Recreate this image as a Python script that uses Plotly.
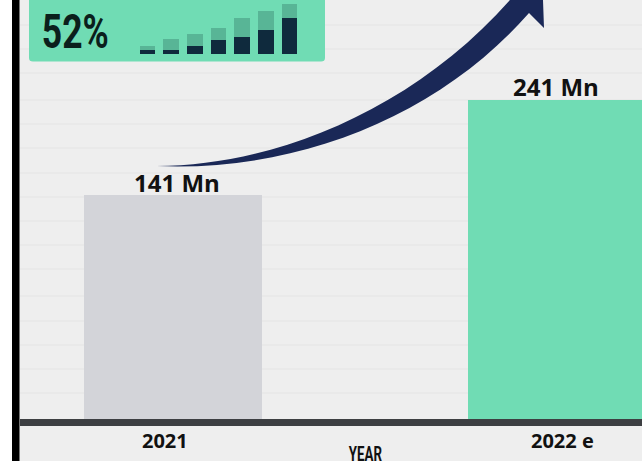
import plotly.graph_objects as go

W, H = 642, 461

# Main bars
years = ["2021", "2022 e"]
users_mn = [141, 241]
bar_colors = ["#d3d4d9", "#70dcb4"]

# Small growth bars in the badge
mini_steps = [0, 1, 2, 3, 4, 5, 6]
mini_dark = [4, 4, 8, 14, 17, 24, 36]
mini_light = [4, 11, 12, 12, 19, 19, 14]
badge_text = "52%"
axis_title = "YEAR"

# Horizontal rules, in pixels from the top
rule_rows = [25, 49, 73, 100, 124, 148, 173, 197, 221, 245, 269, 296, 321, 345, 369, 393]


def px(x):
    return x / W


def py(y):
    return 1 - y / H


def path(cmds):
    """Turn (command, x, y, ...) tuples given in pixels into a paper-space SVG path."""
    parts = []
    for c in cmds:
        nums = c[1:]
        pts = [f"{px(nums[i]):.5f},{py(nums[i + 1]):.5f}" for i in range(0, len(nums), 2)]
        parts.append(c[0] + " " + " ".join(pts))
    return " ".join(parts)


fig = go.Figure()

fig.add_bar(
    x=[0, 1], y=users_mn, width=178 / 384, marker_color=bar_colors,
    marker_line_width=0, xaxis="x", yaxis="y", showlegend=False,
)
fig.add_bar(
    x=mini_steps, y=mini_dark, width=0.655, marker_color="#0f2a3d",
    marker_line_width=0, xaxis="x2", yaxis="y2", showlegend=False,
)
fig.add_bar(
    x=mini_steps, y=mini_light, width=0.655, marker_color="#58b596",
    marker_line_width=0, xaxis="x2", yaxis="y2", showlegend=False,
)

shapes = [
    dict(type="rect", xref="paper", yref="paper", x0=0, x1=px(12), y0=0, y1=1,
         fillcolor="#ffffff", line_width=0, layer="below"),
    dict(type="rect", xref="paper", yref="paper", x0=px(12), x1=px(19.5), y0=0, y1=1,
         fillcolor="#000000", line_width=0, layer="above"),
]
for row in rule_rows:
    shapes.append(dict(type="line", xref="paper", yref="paper", x0=px(20), x1=1,
                       y0=py(row), y1=py(row), line=dict(color="#e7e7e7", width=1.5),
                       layer="below"))

# Rounded badge behind the small bars
shapes.append(dict(
    type="path", xref="paper", yref="paper", layer="below",
    fillcolor="#70dcb4", line_width=0,
    path=path([
        ("M", 29, -5), ("L", 325, -5), ("L", 325, 58), ("Q", 325, 61.5, 321, 61.5),
        ("L", 33, 61.5), ("Q", 29, 61.5, 29, 58), ("Z",),
    ]),
))

# Curved growth arrow
shapes.append(dict(
    type="path", xref="paper", yref="paper", layer="above",
    fillcolor="#1a2857", line_width=0,
    path=path([
        ("M", 157, 166),
        ("C", 270, 166, 410, 113, 510, 0),
        ("L", 543, 0),
        ("L", 544, 28),
        ("L", 529, 13),
        ("C", 440, 115, 300, 172, 157, 166),
        ("Z",),
    ]),
))

annotations = []


def label(text, x, y, size, family, color="#111111"):
    font = dict(size=size, family=family, color=color)
    annotations.append(dict(text=text, xref="paper", yref="paper", x=px(x), y=py(y),
                            xanchor="center", yanchor="middle", showarrow=False, font=font))


OPEN_BOLD = "Open Sans"
label(f"<b>{users_mn[0]} Mn</b>", 177, 182, 24, OPEN_BOLD)
label(f"<b>{users_mn[1]} Mn</b>", 556, 86, 24, OPEN_BOLD)
label(f"<b>{years[0]}</b>", 165, 440, 20, OPEN_BOLD)
label(f"<b>{years[1]}</b>", 562, 440, 20, OPEN_BOLD)
label(f"<b>{axis_title}</b>", 365, 454, 19.5, "Roboto")
label(f"<b>{badge_text}</b>", 75, 32, 48, "Roboto", color="#0b1f1c")

fig.update_layout(
    width=W, height=H,
    margin=dict(l=0, r=0, t=0, b=0),
    paper_bgcolor="#eeeeee",
    plot_bgcolor="rgba(0,0,0,0)",
    barmode="stack",
    shapes=shapes,
    annotations=annotations,
    xaxis=dict(domain=[px(19.5), 1], range=[-(173 - 19.5) / 384, (642 - 173) / 384],
               showgrid=False, zeroline=False, showticklabels=False, ticks="",
               showline=True, linecolor="#3d3f42", linewidth=7),
    yaxis=dict(domain=[py(419), 1], type="log", range=[1.600, 2.627],
               showgrid=False, zeroline=False, showticklabels=False, ticks=""),
    xaxis2=dict(domain=[px(130), px(310)], range=[-17.5 / 23.67, (310 - 147.5) / 23.67],
                anchor="y2", showgrid=False, zeroline=False, showticklabels=False, ticks=""),
    yaxis2=dict(domain=[py(54), 1], range=[0, 54], anchor="x2",
                showgrid=False, zeroline=False, showticklabels=False, ticks=""),
)

# No condensed face is installed, so the two narrow labels are squeezed horizontally
condense = """
var squeeze = {'52%': 0.74, 'YEAR': 0.68};
document.querySelectorAll('text.annotation-text').forEach(function (t) {
  var s = squeeze[t.textContent];
  if (!s) return;
  var b = t.getBBox();
  var cx = b.x + b.width / 2;
  t.setAttribute('transform', 'translate(' + cx + ',0) scale(' + s + ',1) translate(' + (-cx) + ',0)');
});
"""

fig.write_html("out.html", config=dict(displayModeBar=False), post_script=condense)
